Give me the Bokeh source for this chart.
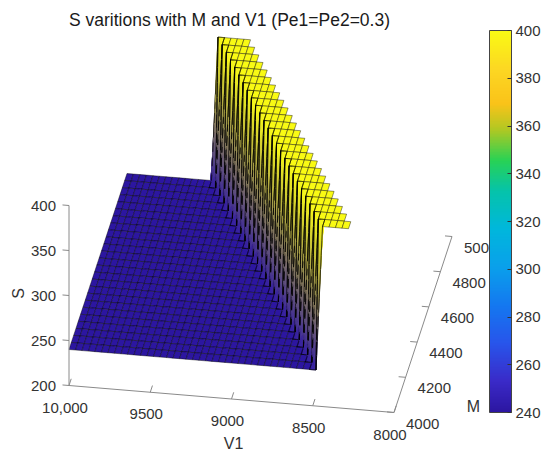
import numpy as np
from bokeh.plotting import figure
from bokeh.models import ColumnDataSource, Range1d, ColorBar, LinearColorMapper, FixedTicker, Label
from bokeh.core.properties import value
from bokeh.embed import file_html
from bokeh.resources import INLINE

# ---------------- data ----------------
v1_grid = list(range(8000, 10001, 40))          # V1 grid points
m_grid = list(range(4000, 5001, 40))            # M grid points
s_floor = 240                                    # S on the low plateau
s_ridge = 400                                    # S on the high ridge
# last V1 grid point on the floor for each M row (cliff position)
cliff_v1 = [8480, 8520, 8560, 8600, 8640, 8680, 8720, 8760, 8800, 8840,
            8880, 8920, 8960, 9000, 9040, 9080, 9120, 9160, 9200, 9240,
            9280, 9320, 9360, 9400, 9440, 9480]
ridge_width = 240                                # V1 extent of the ridge
v1_ticks = [10000, 9500, 9000, 8500, 8000]
v1_tick_labels = ["10,000", "9500", "9000", "8500", "8000"]
m_ticks = [4000, 4200, 4400, 4600, 4800, 5000]
s_ticks = [200, 250, 300, 350, 400]
cbar_ticks = [240, 260, 280, 300, 320, 340, 360, 380, 400]
title_text = "S varitions with M and V1 (Pe1=Pe2=0.3)"

# ---------------- colormap (parula-like) ----------------
anchors = [(0.00, (44, 22, 160)), (0.08, (58, 42, 200)), (0.18, (40, 85, 235)),
           (0.28, (20, 120, 240)), (0.38, (10, 160, 235)), (0.48, (0, 183, 220)),
           (0.58, (5, 195, 170)), (0.66, (40, 210, 85)), (0.74, (175, 200, 35)),
           (0.81, (250, 195, 25)), (0.90, (252, 215, 35)), (1.00, (249, 250, 20))]
af = [a[0] for a in anchors]
ar = [a[1][0] for a in anchors]
ag = [a[1][1] for a in anchors]
ab = [a[1][2] for a in anchors]


def rgb_at(t):
    return np.array([np.interp(t, af, ar), np.interp(t, af, ag), np.interp(t, af, ab)])


palette = []
for k in range(256):
    c = rgb_at(k / 255)
    palette.append("#%02x%02x%02x" % tuple(int(round(x)) for x in c))
c_lo, c_hi = 240, 400


def s_rgb(sv):
    return rgb_at(max(0.0, min(1.0, (sv - c_lo) / (c_hi - c_lo))))


def hexc(c):
    return "#%02x%02x%02x" % tuple(int(round(max(0, min(255, x)))) for x in c)


# ---------------- projection (orthographic 3D view) ----------------
W, H = 550, 458


def proj(v1, m, s):
    v1 = np.asarray(v1, float); m = np.asarray(m, float); s = np.asarray(s, float)
    f = (10000 - v1) / 2000.0
    g = (m - 4000) / 1000.0
    h = (s - 200) / 200.0
    X = 68.5 + 325 * f + 58 * g
    Y = 385 + 27 * f - 176 * g - 180 * h
    depth = (-10440 * f + 58500 * g - 58766 * h) / 83500.0
    return X, H - Y, depth


# surface values
nV, nM = len(v1_grid), len(m_grid)
S = np.full((nM, nV), np.nan)
for j in range(nM):
    for i in range(nV):
        if v1_grid[i] >= cliff_v1[j]:
            S[j, i] = s_floor
        elif v1_grid[i] >= cliff_v1[j] - ridge_width:
            S[j, i] = s_ridge

# ---------------- build faces ----------------
items = []   # (depth, xs, ys, fill, fill_alpha, line, line_alpha, line_width)
NSUB = 10
edge_a, edge_w = 0.7, 0.6
EDGE_BIAS = 0.05


def bil(P, u, w):
    return (1 - u) * (1 - w) * P[0] + u * (1 - w) * P[1] + u * w * P[2] + (1 - u) * w * P[3]


for j in range(nM - 1):
    for i in range(nV - 1):
        cv = [S[j, i], S[j, i + 1], S[j + 1, i + 1], S[j + 1, i]]
        if any(np.isnan(cv)):
            continue
        vv = [v1_grid[i], v1_grid[i + 1], v1_grid[i + 1], v1_grid[i]]
        mm = [m_grid[j], m_grid[j], m_grid[j + 1], m_grid[j + 1]]
        xs, ys, ds = proj(vv, mm, cv)
        if max(cv) - min(cv) < 1e-9:
            items.append((float(np.mean(ds)), list(xs), list(ys), hexc(s_rgb(cv[0])), 1.0,
                          "black", edge_a, edge_w))
            continue
        P = np.array([vv, mm, cv], float).T
        C = np.array([s_rgb(x) for x in cv])
        for a in range(NSUB):
            for b in range(NSUB):
                pts = np.array([bil(P, a / NSUB, b / NSUB), bil(P, (a + 1) / NSUB, b / NSUB),
                                bil(P, (a + 1) / NSUB, (b + 1) / NSUB),
                                bil(P, a / NSUB, (b + 1) / NSUB)])
                col = hexc(bil(C, (a + 0.5) / NSUB, (b + 0.5) / NSUB))
                sx, sy, sd = proj(pts[:, 0], pts[:, 1], pts[:, 2])
                items.append((float(np.mean(sd)), list(sx), list(sy), col, 1.0, col, 1.0, 0.5))
        # cell edges, split into short segments so they sort with the pieces
        for (u0, w0, u1, w1) in [(0, 0, 1, 0), (1, 0, 1, 1), (1, 1, 0, 1), (0, 1, 0, 0)]:
            for k in range(NSUB):
                ta, tb = k / NSUB, (k + 1) / NSUB
                pa = bil(P, u0 + (u1 - u0) * ta, w0 + (w1 - w0) * ta)
                pb = bil(P, u0 + (u1 - u0) * tb, w0 + (w1 - w0) * tb)
                sx, sy, sd = proj([pa[0], pb[0]], [pa[1], pb[1]], [pa[2], pb[2]])
                items.append((float(np.mean(sd)) - EDGE_BIAS, list(sx), list(sy), "white", 0.0,
                              "black", 0.75, edge_w))

items.sort(key=lambda t: -t[0])
src = ColumnDataSource(dict(xs=[t[1] for t in items], ys=[t[2] for t in items],
                            fc=[t[3] for t in items], fa=[t[4] for t in items],
                            lc=[t[5] for t in items], la=[t[6] for t in items],
                            lw=[t[7] for t in items]))

p = figure(width=W, height=H, x_range=Range1d(0, W), y_range=Range1d(0, H),
           x_axis_type=None, y_axis_type=None, toolbar_location=None,
           output_backend="svg", min_border=0, outline_line_color=None,
           title=None, background_fill_color="white", border_fill_color="white")

p.patches("xs", "ys", source=src, fill_color="fc", fill_alpha="fa",
          line_color="lc", line_alpha="la", line_width="lw")

# ---------------- 3D axes ----------------
axis_col = "#8a8a8a"
txt_col = "#333333"
font = value("Liberation Sans")
ax_xs, ax_ys = [], []
x0, y0, _ = proj([10000, 8000], [4000, 4000], [200, 200])      # V1 axis
ax_xs.append(list(x0)); ax_ys.append(list(y0))
x0, y0, _ = proj([8000, 8000], [4000, 5000], [200, 200])        # M axis
ax_xs.append(list(x0)); ax_ys.append(list(y0))
x0, y0, _ = proj([10000, 10000], [4000, 4000], [200, 400])      # S axis
ax_xs.append(list(x0)); ax_ys.append(list(y0))
for v in v1_ticks:
    tx, ty, _ = proj([v, v], [4000, 4038], [200, 200])
    ax_xs.append(list(tx)); ax_ys.append(list(ty))
for mv in m_ticks:
    tx, ty, _ = proj([8000, 8043], [mv, mv], [200, 200])
    ax_xs.append(list(tx)); ax_ys.append(list(ty))
for sv in s_ticks:
    tx, ty, _ = proj([10000, 10040], [4000, 4000], [sv, sv])
    ax_xs.append(list(tx)); ax_ys.append(list(ty))
p.multi_line(ax_xs, ax_ys, line_color=axis_col, line_width=1)

# tick labels
lx, ly, _ = proj(v1_ticks, [4000] * len(v1_ticks), [200] * len(v1_ticks))
p.text(x=list(lx - 4), y=list(ly - 22), text=v1_tick_labels, text_align="center",
       text_baseline="middle", text_font=font, text_font_size="15px", text_color=txt_col)
lx, ly, _ = proj([8000] * len(m_ticks), m_ticks, [200] * len(m_ticks))
p.text(x=list(lx + 12), y=list(ly - 11), text=[str(t) for t in m_ticks], text_align="left",
       text_baseline="middle", text_font=font, text_font_size="15px", text_color=txt_col)
lx, ly, _ = proj([10000] * len(s_ticks), [4000] * len(s_ticks), s_ticks)
p.text(x=list(lx - 13), y=list(ly), text=[str(t) for t in s_ticks], text_align="right",
       text_baseline="middle", text_font=font, text_font_size="15px", text_color=txt_col)

# axis titles
p.add_layout(Label(x=233, y=H - 443, text="V1", text_align="center", text_baseline="middle",
                   text_font="Liberation Sans", text_font_size="16px", text_color=txt_col))
p.add_layout(Label(x=473, y=H - 406, text="M", text_align="center", text_baseline="middle",
                   text_font="Liberation Sans", text_font_size="16px", text_color=txt_col))
p.add_layout(Label(x=18, y=H - 293, text="S", text_align="center", text_baseline="middle",
                   angle=np.pi / 2, text_font="Liberation Sans", text_font_size="16px",
                   text_color=txt_col))
p.add_layout(Label(x=229, y=H - 19, text=title_text, text_align="center",
                   text_baseline="middle", text_font="Liberation Sans",
                   text_font_size="17.5px", text_color="#1a1a1a"))

# ---------------- colorbar ----------------
mapper = LinearColorMapper(palette=palette, low=c_lo, high=c_hi)
cb = ColorBar(color_mapper=mapper, location=(489, 46), width=22, height=382, padding=0,
              ticker=FixedTicker(ticks=cbar_ticks), major_label_text_font_size="15px",
              major_label_text_font="Liberation Sans", major_label_text_color=txt_col,
              label_standoff=4, major_tick_in=4, major_tick_out=0,
              major_tick_line_color="#333333", minor_tick_line_color=None,
              bar_line_color="#444444", border_line_color=None,
              background_fill_alpha=0)
p.add_layout(cb)

open("out.html", "w").write(file_html(p, INLINE))
